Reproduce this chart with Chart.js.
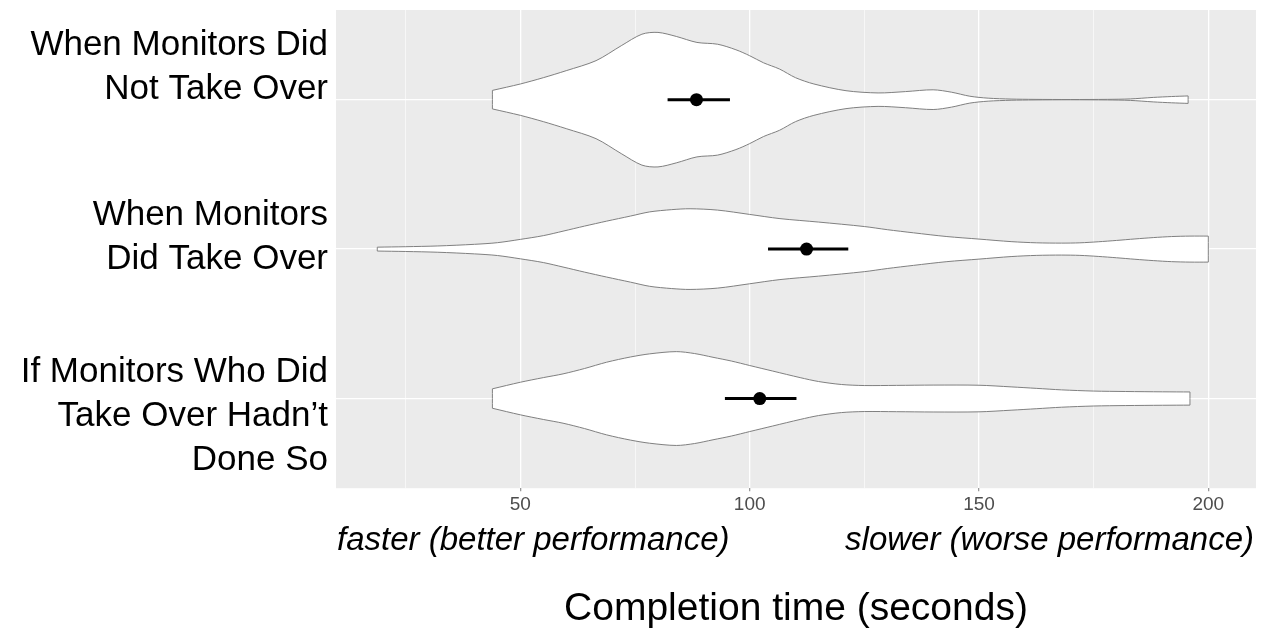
<!DOCTYPE html>
<html>
<head>
<meta charset="utf-8">
<title>Completion time by monitor take-over</title>
<script src="https://cdn.jsdelivr.net/npm/chart.js@4.4.1/dist/chart.umd.min.js"></script>
<style>
  html, body { margin: 0; padding: 0; background: #fff; }
  canvas { display: block; }
</style>
</head>
<body>
<canvas id="chart" width="1268" height="631"></canvas>
<script>
// rows, top to bottom
const categoryLabels = [
  ["When Monitors Did", "Not Take Over"],
  ["When Monitors", "Did Take Over"],
  ["If Monitors Who Did", "Take Over Hadn\u2019t", "Done So"],
];
// the labels in the original sit a little off their row centre (px)
const labelNudge = [-22.5, -2, 27.8];

const xTicks = [25, 50, 75, 100, 125, 150, 175, 200];

// violin outlines: completion time (s) and half width in row units (0.45 = widest)
const notTakeOverTime = [43.9, 50, 55, 60, 66.5, 72, 76.5, 80, 84, 88.5, 93, 97, 100, 103, 106.5, 110, 114,
  121, 128, 134, 140, 144, 148, 152, 157, 162, 170, 178, 183, 188, 192, 195.6];
const notTakeOverHalf = [0.062, 0.105, 0.147, 0.194, 0.261, 0.361, 0.438, 0.450, 0.423, 0.383, 0.371, 0.334,
  0.294, 0.247, 0.205, 0.147, 0.105, 0.060, 0.045, 0.054, 0.066, 0.050, 0.023, 0.010, 0.004, 0.002, 0.001,
  0.002, 0.005, 0.015, 0.021, 0.025];

const tookOverTime = [18.8, 25, 32, 40, 45, 50, 55, 59.3, 64, 68.8, 74, 78.2, 83, 87, 93, 100, 106.6, 115, 125,
  130, 135.7, 143, 150, 157, 162.6, 168, 172, 176, 180, 184, 188, 192, 196, 200];
const tookOverHalf = [0.013, 0.016, 0.021, 0.032, 0.043, 0.065, 0.090, 0.120, 0.154, 0.187, 0.221, 0.249,
  0.264, 0.270, 0.261, 0.232, 0.204, 0.181, 0.151, 0.130, 0.109, 0.084, 0.067, 0.050, 0.042, 0.040, 0.042,
  0.049, 0.058, 0.068, 0.077, 0.084, 0.087, 0.087];

const counterfactualTime = [43.9, 50, 55, 59.3, 64, 68.8, 74, 78.2, 84, 88, 92, 96, 100, 105, 111, 115, 120,
  125, 132, 140, 150, 157, 162.6, 168, 175, 182, 190, 196];
const counterfactualHalf = [0.065, 0.109, 0.140, 0.165, 0.201, 0.243, 0.278, 0.299, 0.314, 0.301, 0.276,
  0.251, 0.221, 0.184, 0.140, 0.114, 0.094, 0.087, 0.088, 0.090, 0.089, 0.078, 0.068, 0.058, 0.050, 0.047,
  0.045, 0.044];

// mean and interval, same row order
const meanTime = [88.4, 112.4, 102.2];
const ciLow = [82.1, 104.0, 94.6];
const ciHigh = [95.7, 121.5, 110.2];

const rowValue = (i) => categoryLabels.length - i;

function violinOutline(times, half, row) {
  const c = rowValue(row);
  const n = times.length;
  const top = times.map((t, k) => ({ x: t, y: c + half[k] }));
  const bottom = times.map((t, k) => ({ x: t, y: c - half[k] })).reverse();
  // corners doubled so the flat ends stay square with tension on
  return [...top, top[n - 1], bottom[0], ...bottom, bottom[n - 1], top[0]];
}

const violins = [
  [notTakeOverTime, notTakeOverHalf],
  [tookOverTime, tookOverHalf],
  [counterfactualTime, counterfactualHalf],
].map(([t, h], i) => ({
  data: violinOutline(t, h, i),
  borderColor: "#808080",
  borderWidth: 1,
  backgroundColor: "#ffffff",
  fill: "shape",
  tension: 0.3,
  pointRadius: 0,
  order: 3,
}));

const errorBars = meanTime.map((m, i) => ({
  data: [{ x: ciLow[i], y: rowValue(i) }, { x: ciHigh[i], y: rowValue(i) }],
  borderColor: "#000",
  borderWidth: 3,
  pointRadius: 0,
  fill: false,
  order: 1,
}));

const meanPoints = {
  data: meanTime.map((m, i) => ({ x: m, y: rowValue(i) })),
  showLine: false,
  pointRadius: 6.5,
  pointBackgroundColor: "#000",
  pointBorderWidth: 0,
  order: 0,
};

const panelBackground = {
  id: "panelBackground",
  beforeDraw(chart) {
    const { ctx, chartArea: a } = chart;
    ctx.save();
    ctx.fillStyle = "#EBEBEB";
    ctx.fillRect(a.left, a.top, a.right - a.left, a.bottom - a.top);
    ctx.restore();
  },
};

const textLabels = {
  id: "textLabels",
  afterDraw(chart) {
    const { ctx, chartArea: a } = chart;
    const y = chart.scales.y;
    ctx.save();
    ctx.fillStyle = "#000";
    ctx.textBaseline = "alphabetic";

    ctx.font = "35px 'Liberation Sans', Arial, sans-serif";
    ctx.textAlign = "right";
    const lineH = 44;
    categoryLabels.forEach((lines, i) => {
      const mid = y.getPixelForValue(rowValue(i)) + labelNudge[i];
      lines.forEach((s, k) => {
        ctx.fillText(s, a.left - 8, mid + (k - (lines.length - 1) / 2) * lineH);
      });
    });

    ctx.font = "italic 33px 'Liberation Sans', Arial, sans-serif";
    ctx.textAlign = "left";
    ctx.fillText("faster (better performance)", a.left + 1, a.bottom + 62);
    ctx.textAlign = "right";
    ctx.fillText("slower (worse performance)", a.right - 2, a.bottom + 62);

    ctx.font = "39px 'Liberation Sans', Arial, sans-serif";
    ctx.textAlign = "center";
    ctx.fillText("Completion time (seconds)", (a.left + a.right) / 2, a.bottom + 132);
    ctx.restore();
  },
};

Chart.defaults.font.family = "'Liberation Sans', Arial, sans-serif";

new Chart(document.getElementById("chart"), {
  type: "line",
  data: { datasets: [meanPoints, ...errorBars, ...violins] },
  options: {
    responsive: false,
    animation: false,
    devicePixelRatio: 1,
    layout: { padding: { left: 336, right: 12, top: 10, bottom: 113 } },
    plugins: { legend: { display: false }, tooltip: { enabled: false } },
    events: [],
    scales: {
      x: {
        type: "linear",
        min: 9.8,
        max: 210.4,
        afterBuildTicks: (scale) => {
          scale.ticks = xTicks.map((v) => ({ value: v }));
        },
        border: { display: false },
        grid: {
          color: "#ffffff",
          lineWidth: (c) => (c.tick && c.tick.value % 50 === 0 ? 1.3 : 0.6),
          tickLength: 3,
          tickColor: (c) => (c.tick && c.tick.value % 50 === 0 ? "#9a9a9a" : "rgba(0,0,0,0)"),
        },
        ticks: {
          autoSkip: false,
          maxRotation: 0,
          padding: 2,
          color: "#4D4D4D",
          font: { size: 19 },
          callback: (v) => (v % 50 === 0 ? v : ""),
        },
      },
      y: {
        type: "linear",
        min: 0.4,
        max: 3.6,
        afterBuildTicks: (scale) => {
          scale.ticks = categoryLabels.map((l, i) => ({ value: rowValue(i) }));
        },
        border: { display: false },
        grid: { color: "#ffffff", lineWidth: 1.3, drawTicks: false },
        ticks: { display: false },
      },
    },
  },
  plugins: [panelBackground, textLabels],
});
</script>
</body>
</html>
